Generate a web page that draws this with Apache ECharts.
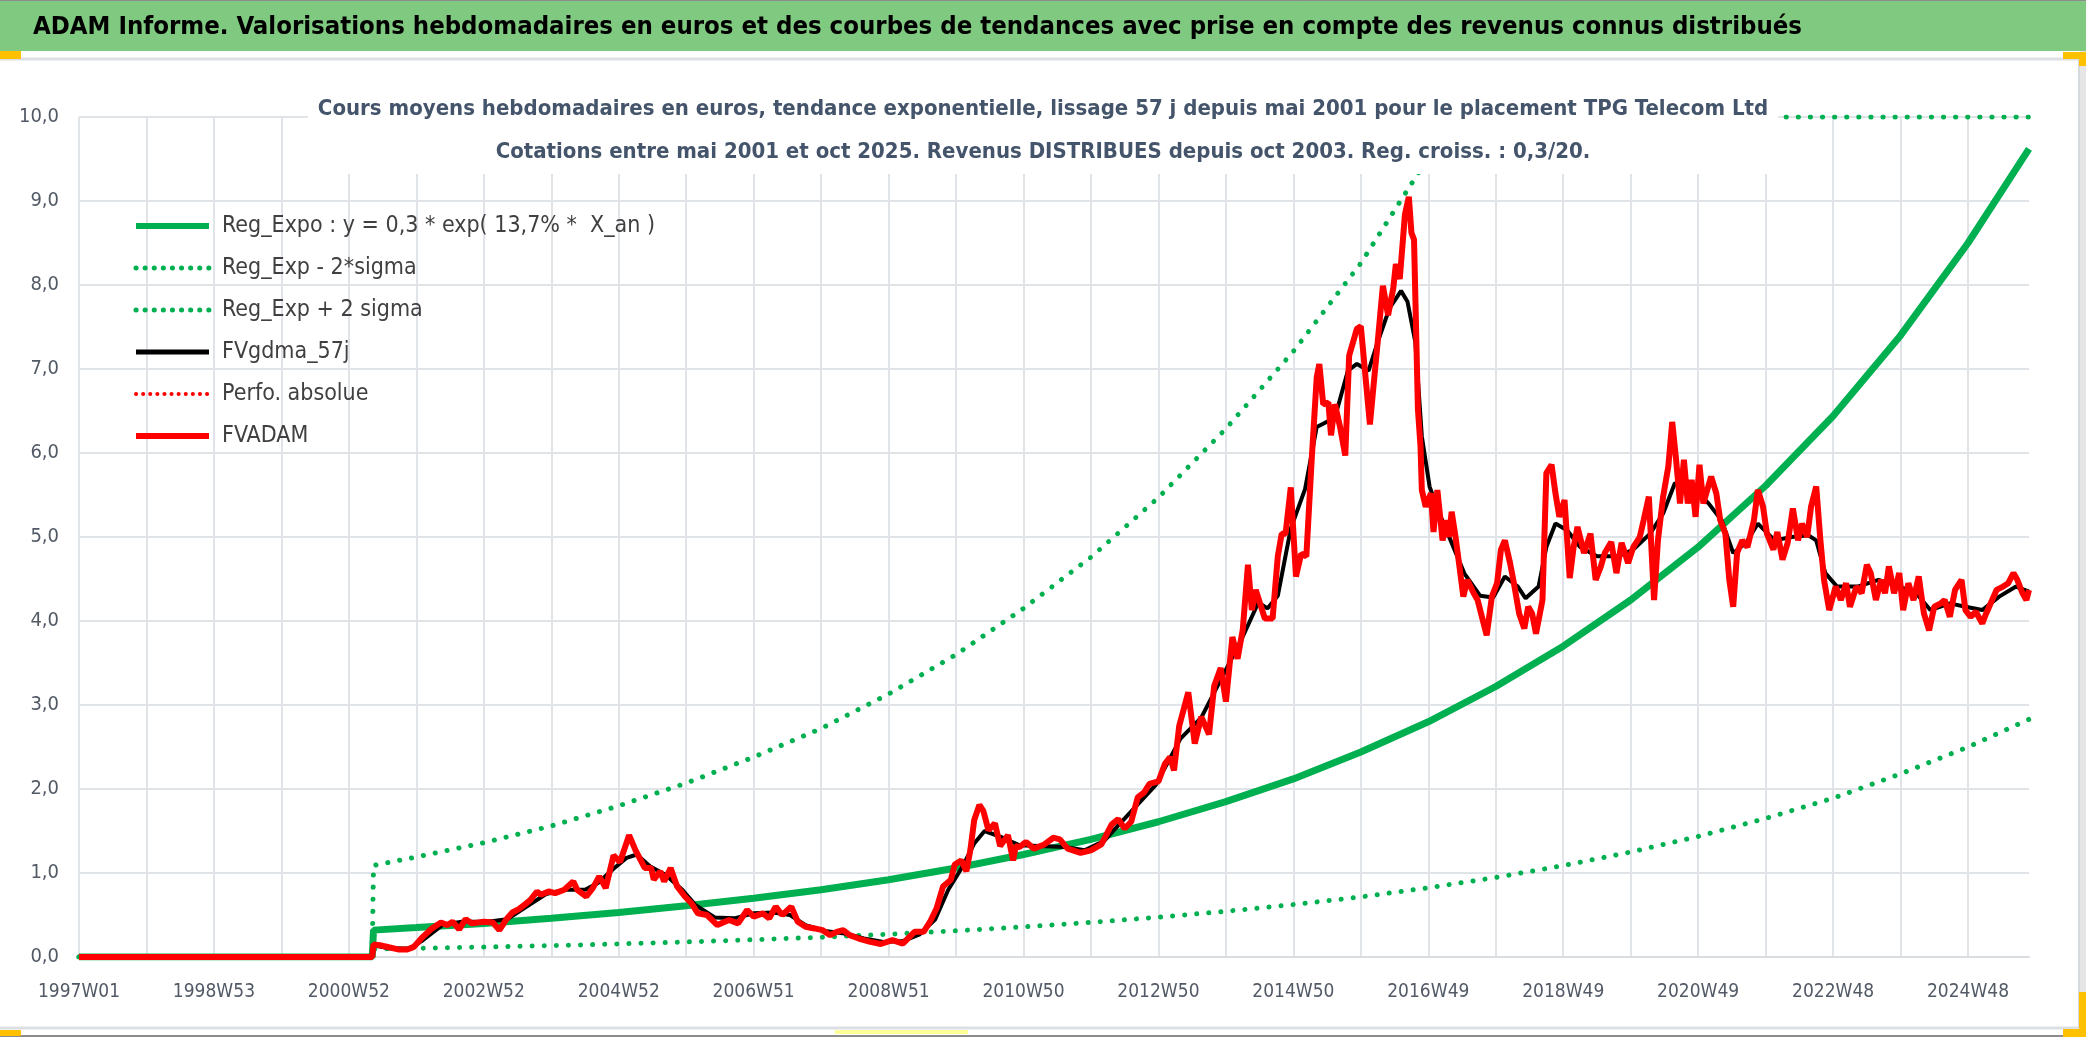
<!DOCTYPE html>
<html><head><meta charset="utf-8">
<script src="https://cdn.jsdelivr.net/npm/echarts/dist/echarts.min.js"></script>
<style>html,body{margin:0;padding:0;background:#fff}#c{width:2086px;height:1037px}</style>
</head><body><div id="c"></div><script>
// ---------- categories: ISO weeks from 1997W01 to 2025W43 ----------
const firstMonday = Date.UTC(1996, 11, 30);
const weekCount = 1504;
function isoWeekLabel(ms) {
  const t = new Date(ms);
  const day = t.getUTCDay() || 7;
  t.setUTCDate(t.getUTCDate() + 4 - day);
  const y = t.getUTCFullYear();
  const w = Math.ceil(((t - Date.UTC(y, 0, 1)) / 86400000 + 1) / 7);
  return y + 'W' + String(w).padStart(2, '0');
}
const weekLabels = [];
for (let i = 0; i < weekCount; i++) weekLabels.push(isoWeekLabel(firstMonday + i * 7 * 86400000));

// ---------- series values: [week index, value] ----------
const regExpo = [[0,0],[226,0],[227,0.32],[260,0.35],[312,0.40],[364,0.46],[416,0.53],[468,0.61],[520,0.70],[572,0.80],[624,0.92],[676,1.06],[728,1.22],[780,1.40],[832,1.61],[884,1.85],[936,2.12],[988,2.44],[1040,2.80],[1092,3.22],[1144,3.70],[1196,4.25],[1248,4.88],[1300,5.61],[1352,6.44],[1404,7.40],[1456,8.50],[1503,9.62]];
const regMinus2s = [[0,0],[226,0],[227,0.094],[260,0.103],[312,0.118],[364,0.135],[416,0.156],[468,0.179],[520,0.206],[572,0.235],[624,0.271],[676,0.312],[728,0.359],[780,0.412],[832,0.474],[884,0.544],[936,0.624],[988,0.715],[1040,0.824],[1092,0.947],[1144,1.088],[1196,1.25],[1248,1.435],[1300,1.65],[1352,1.89],[1404,2.18],[1456,2.50],[1503,2.83]];
const regPlus2s = [[0,0],[226,0],[227,1.09],[260,1.19],[312,1.36],[364,1.56],[416,1.80],[468,2.07],[520,2.38],[572,2.72],[624,3.13],[676,3.60],[728,4.15],[780,4.76],[832,5.47],[884,6.29],[936,7.21],[988,8.26],[1040,9.52],[1058,10],[1092,10],[1144,10],[1196,10],[1248,10],[1300,10],[1352,10],[1404,10],[1456,10],[1503,10]];
const fvgdma57 = [[0,0],[226,0],[227,0.14],[240,0.10],[255,0.10],[265,0.20],[280,0.38],[295,0.42],[315,0.42],[330,0.45],[345,0.60],[360,0.75],[375,0.80],[390,0.80],[400,0.88],[412,1.05],[422,1.18],[430,1.22],[440,1.08],[452,0.98],[465,0.80],[475,0.62],[490,0.47],[505,0.46],[520,0.52],[535,0.53],[548,0.50],[560,0.38],[575,0.31],[590,0.28],[605,0.22],[620,0.18],[635,0.19],[648,0.27],[660,0.45],[670,0.80],[680,1.05],[690,1.35],[698,1.50],[712,1.42],[725,1.33],[740,1.32],[760,1.31],[775,1.27],[790,1.38],[800,1.55],[815,1.80],[830,2.05],[849,2.60],[865,2.85],[880,3.30],[896,3.78],[909,4.22],[916,4.15],[924,4.30],[934,5.10],[945,5.57],[954,6.31],[968,6.42],[978,6.98],[985,7.06],[994,6.98],[1001,7.32],[1010,7.72],[1019,7.93],[1024,7.80],[1030,7.32],[1035,6.20],[1041,5.60],[1048,5.30],[1058,4.93],[1068,4.56],[1080,4.30],[1090,4.28],[1099,4.53],[1109,4.41],[1115,4.27],[1125,4.41],[1131,4.88],[1138,5.16],[1147,5.08],[1157,4.88],[1170,4.77],[1186,4.77],[1198,4.85],[1211,5.04],[1221,5.28],[1230,5.64],[1243,5.60],[1256,5.40],[1266,5.20],[1275,4.81],[1285,4.93],[1294,5.16],[1307,4.96],[1320,5.00],[1333,5.02],[1339,4.96],[1346,4.57],[1355,4.41],[1371,4.41],[1387,4.49],[1403,4.41],[1416,4.33],[1427,4.13],[1442,4.21],[1454,4.17],[1467,4.13],[1480,4.29],[1493,4.41],[1503,4.35]];
const perfoAbsolue = [];
const fvadam = [[0,0],[226,0],[227,0.15],[232,0.14],[246,0.09],[253,0.09],[258,0.12],[265,0.24],[272,0.34],[279,0.41],[284,0.38],[288,0.42],[293,0.33],[298,0.45],[303,0.40],[312,0.42],[319,0.41],[324,0.32],[329,0.44],[334,0.53],[339,0.57],[344,0.63],[348,0.68],[353,0.78],[356,0.74],[362,0.78],[367,0.76],[374,0.80],[381,0.90],[384,0.80],[391,0.72],[396,0.82],[401,0.96],[406,0.82],[412,1.21],[417,1.13],[424,1.45],[429,1.27],[436,1.06],[441,1.06],[443,0.92],[448,1.02],[451,0.90],[456,1.06],[461,0.84],[467,0.72],[472,0.64],[477,0.52],[484,0.50],[492,0.38],[501,0.44],[508,0.40],[515,0.56],[520,0.48],[527,0.52],[532,0.46],[537,0.60],[542,0.50],[549,0.60],[554,0.42],[560,0.36],[567,0.34],[573,0.32],[579,0.26],[584,0.30],[589,0.32],[594,0.26],[601,0.22],[610,0.18],[618,0.155],[627,0.20],[635,0.16],[644,0.30],[651,0.30],[656,0.42],[661,0.58],[666,0.84],[672,0.92],[675,1.10],[680,1.15],[684,1.02],[687,1.27],[690,1.63],[694,1.81],[697,1.74],[701,1.51],[706,1.59],[710,1.32],[716,1.45],[720,1.15],[722,1.32],[725,1.31],[730,1.37],[736,1.29],[744,1.34],[751,1.42],[756,1.40],[762,1.29],[772,1.24],[780,1.27],[788,1.34],[796,1.58],[801,1.64],[806,1.53],[811,1.61],[816,1.90],[821,1.96],[825,2.06],[832,2.09],[837,2.30],[841,2.38],[844,2.22],[848,2.75],[855,3.15],[860,2.54],[865,2.86],[871,2.65],[875,3.23],[880,3.44],[884,3.04],[889,3.81],[893,3.55],[897,3.90],[901,4.67],[904,4.13],[907,4.37],[914,4.03],[920,4.03],[924,4.77],[927,5.04],[930,5.04],[934,5.59],[938,4.53],[942,4.80],[946,4.77],[950,5.89],[954,6.90],[956,7.06],[959,6.58],[963,6.60],[965,6.21],[968,6.58],[972,6.31],[976,5.97],[979,7.16],[985,7.48],[988,7.51],[992,6.84],[995,6.34],[999,7.00],[1001,7.32],[1005,7.99],[1009,7.64],[1013,7.96],[1015,8.25],[1018,8.07],[1022,8.84],[1025,9.05],[1027,8.62],[1029,8.54],[1032,6.52],[1034,6.08],[1035,5.56],[1038,5.36],[1042,5.52],[1044,5.06],[1047,5.56],[1051,4.96],[1054,5.20],[1056,5.00],[1058,5.30],[1061,5.00],[1064,4.65],[1067,4.29],[1070,4.49],[1075,4.33],[1078,4.25],[1082,4.01],[1085,3.83],[1089,4.29],[1093,4.45],[1096,4.85],[1099,4.96],[1103,4.69],[1106,4.45],[1110,4.09],[1114,3.91],[1117,4.17],[1120,4.09],[1123,3.85],[1128,4.25],[1131,5.76],[1135,5.86],[1138,5.52],[1141,5.24],[1145,5.44],[1149,4.51],[1152,4.88],[1155,5.12],[1160,4.81],[1165,5.04],[1169,4.49],[1173,4.65],[1176,4.81],[1181,4.94],[1185,4.57],[1189,4.93],[1194,4.69],[1198,4.88],[1203,5.00],[1206,5.20],[1210,5.48],[1214,4.25],[1217,4.96],[1221,5.48],[1225,5.84],[1228,6.37],[1231,5.92],[1234,5.40],[1237,5.92],[1240,5.40],[1243,5.68],[1246,5.24],[1249,5.86],[1252,5.40],[1258,5.72],[1262,5.52],[1265,5.20],[1269,5.04],[1272,4.49],[1275,4.17],[1278,4.81],[1282,4.96],[1286,4.88],[1291,5.20],[1294,5.56],[1298,5.36],[1301,5.04],[1306,4.85],[1309,5.06],[1313,4.73],[1317,4.93],[1321,5.34],[1325,4.96],[1328,5.16],[1332,5.00],[1335,5.36],[1339,5.60],[1342,5.00],[1345,4.49],[1349,4.13],[1354,4.41],[1358,4.25],[1362,4.45],[1365,4.17],[1370,4.41],[1374,4.33],[1378,4.67],[1381,4.57],[1385,4.25],[1389,4.49],[1392,4.33],[1395,4.65],[1399,4.33],[1403,4.57],[1406,4.13],[1410,4.45],[1414,4.25],[1418,4.53],[1422,4.09],[1426,3.89],[1430,4.17],[1435,4.21],[1438,4.25],[1442,4.05],[1446,4.37],[1451,4.49],[1454,4.13],[1458,4.05],[1462,4.11],[1467,3.97],[1470,4.09],[1474,4.23],[1478,4.37],[1483,4.41],[1487,4.45],[1491,4.57],[1494,4.49],[1498,4.33],[1501,4.25],[1503,4.37]];

// ---------- texts ----------
const mainTitle = 'ADAM Informe. Valorisations hebdomadaires en euros et des courbes de tendances avec prise en compte des revenus connus distribués';
const subTitle1 = 'Cours moyens hebdomadaires en euros, tendance exponentielle, lissage 57 j depuis mai 2001 pour le placement TPG Telecom Ltd';
const subTitle2 = 'Cotations entre mai 2001 et oct 2025. Revenus DISTRIBUES depuis oct 2003. Reg. croiss. : 0,3/20.';
const seriesNames = ['Reg_Expo : y = 0,3 * exp( 13,7% *  X_an )', 'Reg_Exp - 2*sigma', 'Reg_Exp + 2 sigma', 'FVgdma_57j', 'Perfo. absolue', 'FVADAM'];

const FONT = "'Liberation Sans Narrow', 'Arial Narrow', 'DejaVu Sans Condensed', sans-serif";
const AXIS_COL = '#525A66';
const GRID_COL = '#E0E3E8';
const GREEN = '#00B050';
const dotted = (c, w, gap) => ({ color: c, width: w, type: [0.1, gap], cap: 'round' });

const legendItems = [
  { name: seriesNames[0], lineStyle: { width: 6 } },
  { name: seriesNames[1], lineStyle: { width: 5, type: [0.1, 9], cap: 'round' } },
  { name: seriesNames[2], lineStyle: { width: 5, type: [0.1, 9], cap: 'round' } },
  { name: seriesNames[3], lineStyle: { width: 5 } },
  { name: seriesNames[4], lineStyle: { width: 4, type: [0.1, 7], cap: 'round' } },
  { name: seriesNames[5], lineStyle: { width: 6 } }
];

const chart = echarts.init(document.getElementById('c'), null, { renderer: 'canvas' });
chart.setOption({
  animation: false,
  backgroundColor: '#ffffff',
  graphic: [
    { type: 'rect', shape: { x: 0, y: 0, width: 2086, height: 51 }, style: { fill: '#80C980' }, z: 0 },
    { type: 'line', shape: { x1: 0, y1: 0.5, x2: 2086, y2: 0.5 }, style: { stroke: '#8C8C8C', lineWidth: 1 } },
    { type: 'line', shape: { x1: 0, y1: 59, x2: 2080, y2: 59 }, style: { stroke: '#DCDFE4', lineWidth: 3 } },
    { type: 'line', shape: { x1: 2079, y1: 59, x2: 2079, y2: 1028 }, style: { stroke: '#D5D8DD', lineWidth: 2 } },
    { type: 'rect', shape: { x: 2080, y: 51, width: 6, height: 986 }, style: { fill: '#E6E6E6' } },
    { type: 'line', shape: { x1: 0, y1: 1028, x2: 2080, y2: 1028 }, style: { stroke: '#DCDFE4', lineWidth: 3 } },
    { type: 'line', shape: { x1: 0, y1: 1036, x2: 2086, y2: 1036 }, style: { stroke: '#8C8C8C', lineWidth: 2 } },
    { type: 'rect', shape: { x: 0, y: 51, width: 21, height: 8 }, style: { fill: '#FFC000' } },
    { type: 'rect', shape: { x: 2063, y: 52, width: 23, height: 7 }, style: { fill: '#FFC000' } },
    { type: 'rect', shape: { x: 2079, y: 52, width: 7, height: 14 }, style: { fill: '#FFC000' } },
    { type: 'rect', shape: { x: 2063, y: 1029, width: 23, height: 8 }, style: { fill: '#FFC000' } },
    { type: 'rect', shape: { x: 2079, y: 992, width: 7, height: 45 }, style: { fill: '#FFC000' } },
    { type: 'rect', shape: { x: 0, y: 1030, width: 21, height: 6 }, style: { fill: '#FFC000' } },
    { type: 'rect', shape: { x: 835, y: 1030, width: 133, height: 4 }, style: { fill: '#FFFF99' } }
  ],
  title: [
    { text: mainTitle, left: 33, top: 12, padding: 0,
      textStyle: { fontFamily: FONT, fontSize: 25.5, fontWeight: 'bold', color: '#000000', lineHeight: 30 } },
    { text: subTitle1 + '\n' + subTitle2, left: 'center', top: 80, padding: [8, 10, 0, 10], backgroundColor: '#ffffff',
      textStyle: { fontFamily: FONT, fontSize: 22, fontWeight: 'bold', color: '#44546A', lineHeight: 43 } }
  ],
  legend: {
    orient: 'vertical', left: 133, top: 214, padding: 0, itemGap: 18,
    itemWidth: 73, itemHeight: 14,
    data: legendItems,
    itemStyle: { opacity: 0 },
    textStyle: { fontFamily: FONT, fontSize: 23, color: '#404040', lineHeight: 24, padding: [0, 0, 0, 8] }
  },
  grid: { left: 79, right: 57, top: 117, bottom: 80, containLabel: false },
  xAxis: {
    type: 'category', data: weekLabels, boundaryGap: false,
    axisLine: { lineStyle: { color: '#D9DCE1', width: 2 } },
    axisTick: { show: false },
    axisLabel: { interval: 103, color: AXIS_COL, fontFamily: FONT, fontSize: 19, margin: 26 },
    splitLine: { show: true, interval: 51, lineStyle: { color: GRID_COL, width: 2 } }
  },
  yAxis: {
    type: 'value', min: 0, max: 10, interval: 1,
    axisLine: { show: false }, axisTick: { show: false },
    axisLabel: { color: AXIS_COL, fontFamily: FONT, fontSize: 20, margin: 20,
      formatter: v => v.toFixed(1).replace('.', ',') },
    splitLine: { lineStyle: { color: GRID_COL, width: 2 } }
  },
  series: [
    { name: seriesNames[0], type: 'line', data: regExpo, symbol: 'none', lineStyle: { color: GREEN, width: 7 }, itemStyle: { color: GREEN } },
    { name: seriesNames[1], type: 'line', data: regMinus2s, symbol: 'none', lineStyle: dotted(GREEN, 5, 12), itemStyle: { color: GREEN } },
    { name: seriesNames[2], type: 'line', data: regPlus2s, symbol: 'none', lineStyle: dotted(GREEN, 5, 12), itemStyle: { color: GREEN } },
    { name: seriesNames[3], type: 'line', data: fvgdma57, symbol: 'none', lineStyle: { color: '#000000', width: 4 }, itemStyle: { color: '#000000' } },
    { name: seriesNames[4], type: 'line', data: perfoAbsolue, symbol: 'none', lineStyle: dotted('#FF0000', 3, 7), itemStyle: { color: '#FF0000' } },
    { name: seriesNames[5], type: 'line', data: fvadam, symbol: 'none', lineStyle: { color: '#FF0000', width: 6 }, itemStyle: { color: '#FF0000' } }
  ]
});
</script></body></html>
